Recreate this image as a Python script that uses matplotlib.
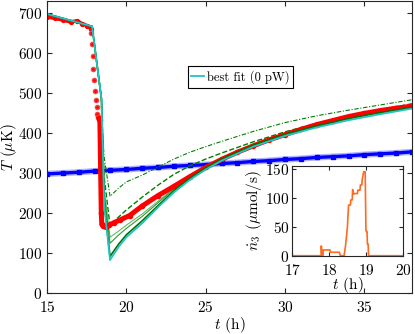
import numpy as np
import matplotlib
matplotlib.use("Agg")
import matplotlib.pyplot as plt

plt.rcParams['font.family'] = 'serif'
plt.rcParams['font.serif'] = ['cmr10']
plt.rcParams['mathtext.fontset'] = 'cm'
plt.rcParams['axes.formatter.use_mathtext'] = True

# measured temperature (red): before cooling, fast-cooling samples, after
t_red_pre = [15.0, 15.5, 16.0, 16.5, 16.9, 17.2, 17.5, 17.78]
T_red_pre = [690, 686, 682, 677, 680, 673, 668, 660]
t_red_drop = [17.80, 17.84, 17.87, 17.90, 17.97, 18.01, 18.07, 18.12, 18.16, 18.22, 18.28]
T_red_drop = [650, 622, 593, 560, 531, 506, 483, 464, 448, 439, 436]
t_red = [18.28, 18.33, 18.38, 18.42, 18.45, 18.55, 18.7, 18.9, 19.2, 19.6, 20.2, 21.0,
         22.0, 23.0, 24.0, 25.0, 26.0, 27.0, 28.0, 29.0, 30.0, 31.0, 32.0, 33.0,
         34.0, 35.0, 36.0, 37.0, 38.0]
T_red = [436, 432, 300, 200, 172, 167, 165, 170, 176, 183, 194, 218,
         244, 267, 291, 314, 334, 352, 368, 383, 396, 409, 421, 431,
         441, 449, 456, 462, 467]

# blue reference temperature
t_blue = list(range(15, 39))
T_blue = [298, 300, 302, 305, 307, 309, 312, 314, 317, 319, 321, 324,
          326, 329, 331, 334, 336, 339, 341, 343, 346, 348, 350, 353]

# model curves, common start
t_fit = [15.0, 17.84, 18.43, 18.5, 18.6, 18.97, 19.5, 20.0, 21.0, 22.0, 23.0, 24.0,
         25.0, 26.0, 28.0, 30.0, 32.0, 34.0, 36.0, 38.0]
T_best = [697, 666, 485, 380, 220, 83, 115, 140, 175, 215, 252, 283,
          309, 331, 366, 393, 414, 432, 447, 461]
T_fit_a = [697, 666, 485, 385, 228, 92, 122, 146, 181, 219, 256, 287,
           313, 335, 370, 397, 418, 436, 451, 464]
T_fit_b = [697, 666, 485, 390, 250, 125, 145, 162, 192, 226, 260, 290,
           315, 337, 371, 398, 419, 437, 452, 465]
T_fit_c = [697, 666, 485, 395, 262, 140, 155, 170, 198, 230, 262, 291,
           316, 338, 372, 399, 420, 438, 453, 466]
T_fit_d = [697, 666, 485, 400, 290, 168, 190, 208, 240, 270, 297, 318,
           335, 350, 378, 403, 424, 442, 458, 473]
T_fit_e = [697, 666, 485, 400, 340, 242, 262, 278, 295, 315, 335, 352,
           366, 379, 404, 426, 443, 457, 470, 483]

# inset: helium-3 flow
t_flow = [17.0, 17.78, 17.785, 17.80, 17.83, 17.835, 18.02, 18.03, 18.27, 18.30, 18.40,
          18.44, 18.49, 18.52, 18.57, 18.58, 18.62, 18.63, 18.66, 18.68, 18.76, 18.77,
          18.83, 18.84, 18.88, 18.89, 18.93, 18.97, 18.99, 19.0, 19.02, 19.03, 19.05, 19.06, 20.0]
n_flow = [0, 0, 17, 0, 0, 10, 10, 6, 6, 0, 0,
          18, 50, 88, 88, 97, 97, 115, 107, 108, 108, 114,
          114, 123, 123, 133, 146, 146, 45, 42, 42, 20, 20, 0, 0]

fig = plt.figure(figsize=(4.15, 3.34), dpi=100)
ax = fig.add_axes([0.1133, 0.1218, 0.8795, 0.876])

ax.plot(t_blue, T_blue, color='#8080ff', lw=4.5, alpha=0.6, solid_capstyle='butt')
ax.plot(t_blue, T_blue, color='#0000ff', lw=2.4, marker='s', ms=2.5)

ax.plot(t_fit, T_fit_e, color='#008000', lw=0.8, ls=(0, (4, 1.5, 1, 1.5)))
ax.plot(t_fit, T_fit_d, color='#008000', lw=1.0, ls='--')
ax.plot(t_fit, T_fit_c, color='#66bb66', lw=0.8)
ax.plot(t_fit, T_fit_b, color='#339933', lw=0.8)

ax.plot(t_red_pre, T_red_pre, color='#ff0000', lw=2.6, solid_joinstyle='round')
ax.plot(t_red_pre, T_red_pre, 'o', color='#ff0000', ms=2.8)
ax.plot(t_red_drop, T_red_drop, 'o', color='#ff0000', ms=3.0, mec='#ff4040')
ax.plot(t_red, T_red, color='#ff0000', lw=3.6, solid_joinstyle='round')
ax.plot(t_red, T_red, 'o', color='#ff0000', ms=3)

ax.plot(t_fit, T_fit_a, color='#007000', lw=1.2)
ax.plot(t_fit, T_best, color='#22c4c4', lw=1.3, label='best fit (0 pW)')

ax.set_xlim(15, 38)
ax.set_ylim(0, 730)
ax.set_xticks([15, 20, 25, 30, 35])
ax.set_yticks(range(0, 701, 100))
ax.tick_params(direction='in', top=True, right=True, length=3.5, labelsize=11, color='#262626')
ax.tick_params(axis='x', pad=5)
for s in ax.spines.values():
    s.set_color('#262626')
    s.set_linewidth(0.8)
ax.set_xlabel('$t$ (h)', fontsize=11, labelpad=0)
ax.set_ylabel('$T$ ($\\mu$K)', fontsize=11)
ax.yaxis.set_label_coords(-0.078, 0.5)

leg = ax.legend(loc='center', bbox_to_anchor=(0.53, 0.739), fontsize=9, frameon=True,
                fancybox=False, handlelength=1.0, handletextpad=0.25, borderpad=0.3,
                borderaxespad=0.2)
leg.get_frame().set_edgecolor('black')
leg.get_frame().set_linewidth(0.8)
leg.get_frame().set_alpha(1)

ins = fig.add_axes([0.7043, 0.2344, 0.2675, 0.2686])
ins.plot(t_flow, n_flow, color='#ff6a1f', lw=1.2)
ins.set_xlim(17, 20)
ins.set_ylim(0, 156)
ins.set_xticks([17, 18, 19, 20])
ins.set_yticks([0, 50, 100, 150])
ins.tick_params(direction='in', top=True, right=True, length=3, labelsize=11, color='#262626', pad=2)
ins.tick_params(axis='x', pad=5)
for s in ins.spines.values():
    s.set_color('#262626')
    s.set_linewidth(0.8)
ins.set_xlabel('$t$ (h)', fontsize=11, labelpad=-2)
ins.set_ylabel('$\\dot{n}_3$ ($\\mu$mol/s)', fontsize=11, labelpad=1)

fig.savefig('out.png', dpi=100)
